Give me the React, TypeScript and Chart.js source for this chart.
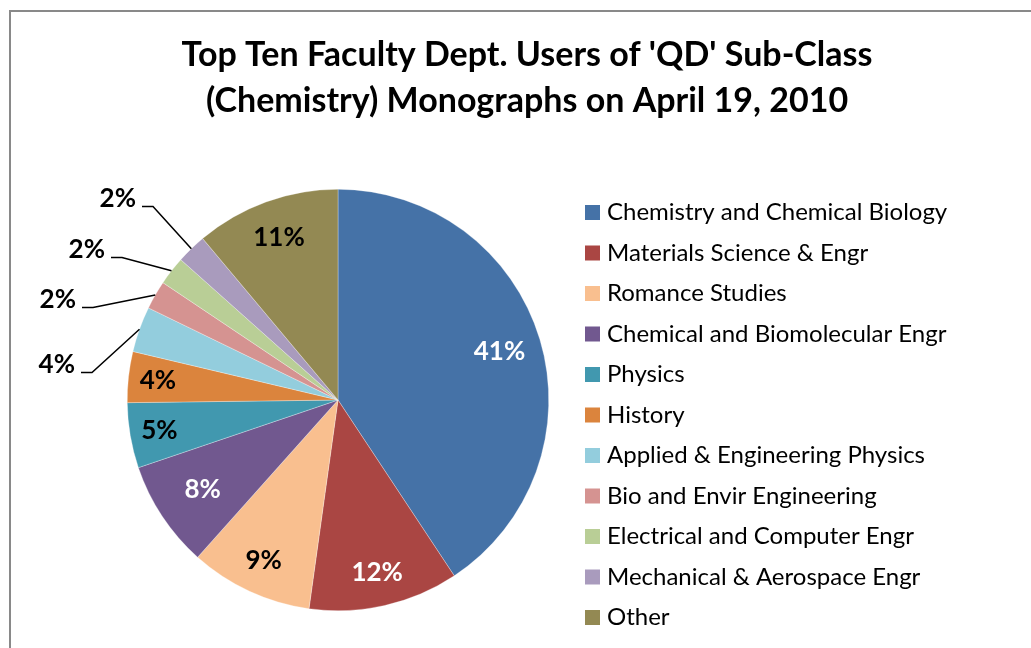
import React, { useEffect, useRef } from "react";
import { Chart, registerables } from "chart.js";

Chart.register(...registerables);

const titleLines = ["Top Ten Faculty Dept. Users of 'QD' Sub-Class", "(Chemistry) Monographs on April 19, 2010"];

const departments = [
  "Chemistry and Chemical Biology",
  "Materials Science & Engr",
  "Romance Studies",
  "Chemical and Biomolecular Engr",
  "Physics",
  "History",
  "Applied & Engineering Physics",
  "Bio and Envir Engineering",
  "Electrical and Computer Engr",
  "Mechanical & Aerospace Engr",
  "Other",
];

const shares = [40.7, 11.5, 9.4, 8.2, 5.0, 3.9, 3.5, 2.2, 2.2, 2.3, 11.1];

const percentLabels = ["41%", "12%", "9%", "8%", "5%", "4%", "4%", "2%", "2%", "2%", "11%"];

const sliceColors = [
  "#4572A7",
  "#AA4643",
  "#F9BF8F",
  "#71588F",
  "#4198AF",
  "#DB843D",
  "#93CDDD",
  "#D59391",
  "#B9CE96",
  "#A99BBD",
  "#938953",
];

const FONT = "Lato, 'DejaVu Sans', sans-serif";

// label styling per slice: inside (radius factor, colour) or outside (offset of text right edge / center y from pie centre)
const insideLabel: Record<number, { f: number; color: string }> = {
  0: { f: 0.8, color: "#ffffff" },
  1: { f: 0.84, color: "#ffffff" },
  2: { f: 0.84, color: "#000000" },
  3: { f: 0.77, color: "#ffffff" },
  4: { f: 0.86, color: "#000000" },
  5: { f: 0.86, color: "#000000" },
  10: { f: 0.82, color: "#000000" },
};
const outsideLabel: Record<number, { dx: number; dy: number }> = {
  6: { dx: -263, dy: -35 },
  7: { dx: -262, dy: -100 },
  8: { dx: -233, dy: -150 },
  9: { dx: -202, dy: -201 },
};

const decorPlugin = {
  id: "decor",
  beforeDraw(chart: any) {
    const ctx = chart.ctx;
    ctx.save();
    ctx.fillStyle = "#ffffff";
    ctx.fillRect(0, 0, chart.width, chart.height);
    ctx.strokeStyle = "#898989";
    ctx.lineWidth = 2;
    ctx.beginPath();
    ctx.moveTo(10, chart.height + 5);
    ctx.lineTo(10, 11);
    ctx.lineTo(chart.width + 5, 11);
    ctx.stroke();
    ctx.restore();
  },
  afterDraw(chart: any) {
    const ctx = chart.ctx;
    ctx.save();
    // title
    ctx.fillStyle = "#000000";
    ctx.font = `bold 34px ${FONT}`;
    ctx.textAlign = "center";
    ctx.textBaseline = "alphabetic";
    ctx.fillText(titleLines[0], 527, 66);
    ctx.fillText(titleLines[1], 527, 112);

    // legend
    const labels = chart.data.labels as string[];
    const colors = chart.data.datasets[0].backgroundColor as string[];
    ctx.font = `24px ${FONT}`;
    ctx.textAlign = "left";
    labels.forEach((lab, i) => {
      const top = 205 + i * 40.5;
      ctx.fillStyle = colors[i];
      ctx.fillRect(585, top, 15, 15);
      ctx.fillStyle = "#000000";
      ctx.fillText(lab, 607, top + 15);
    });

    // data labels
    const meta = chart.getDatasetMeta(0);
    ctx.font = `bold 26px ${FONT}`;
    meta.data.forEach((arc: any, i: number) => {
      const { x, y, startAngle, endAngle, outerRadius } = arc.getProps(
        ["x", "y", "startAngle", "endAngle", "outerRadius"],
        true
      );
      const mid = (startAngle + endAngle) / 2;
      const txt = percentLabels[i];
      if (insideLabel[i]) {
        const { f, color } = insideLabel[i];
        ctx.fillStyle = color;
        ctx.textAlign = "center";
        ctx.textBaseline = "middle";
        ctx.fillText(txt, x + Math.cos(mid) * outerRadius * f, y + Math.sin(mid) * outerRadius * f);
      } else if (outsideLabel[i]) {
        const { dx, dy } = outsideLabel[i];
        const rx = x + dx;
        const cy = y + dy;
        ctx.fillStyle = "#000000";
        ctx.textAlign = "right";
        ctx.textBaseline = "middle";
        ctx.fillText(txt, rx, cy);
        const ly = cy + 7.5;
        ctx.strokeStyle = "#000000";
        ctx.lineWidth = 1.5;
        ctx.beginPath();
        ctx.moveTo(rx + 6, ly);
        ctx.lineTo(rx + 17, ly);
        ctx.lineTo(x + Math.cos(mid) * outerRadius, y + Math.sin(mid) * outerRadius);
        ctx.stroke();
      }
    });
    ctx.restore();
  },
};

export default function App() {
  const ref = useRef<HTMLCanvasElement | null>(null);
  useEffect(() => {
    if (!ref.current) return;
    const chart = new Chart(ref.current, {
      type: "pie",
      data: {
        labels: departments,
        datasets: [
          {
            data: shares,
            backgroundColor: sliceColors,
            borderColor: "rgba(255,255,255,0.6)",
            borderWidth: 0.5,
          },
        ],
      },
      options: {
        responsive: false,
        animation: false,
        devicePixelRatio: 1,
        layout: { padding: { left: 127, right: 482, top: 189, bottom: 37 } },
        plugins: {
          legend: { display: false },
          title: { display: false },
          tooltip: { enabled: false },
        },
      },
      plugins: [decorPlugin],
    });
    return () => chart.destroy();
  }, []);
  return (
    <div style={{ position: "absolute", left: 0, top: 0, width: 1031, height: 648, background: "#fff" }}>
      <canvas ref={ref} width={1031} height={648} style={{ display: "block" }} />
    </div>
  );
}
